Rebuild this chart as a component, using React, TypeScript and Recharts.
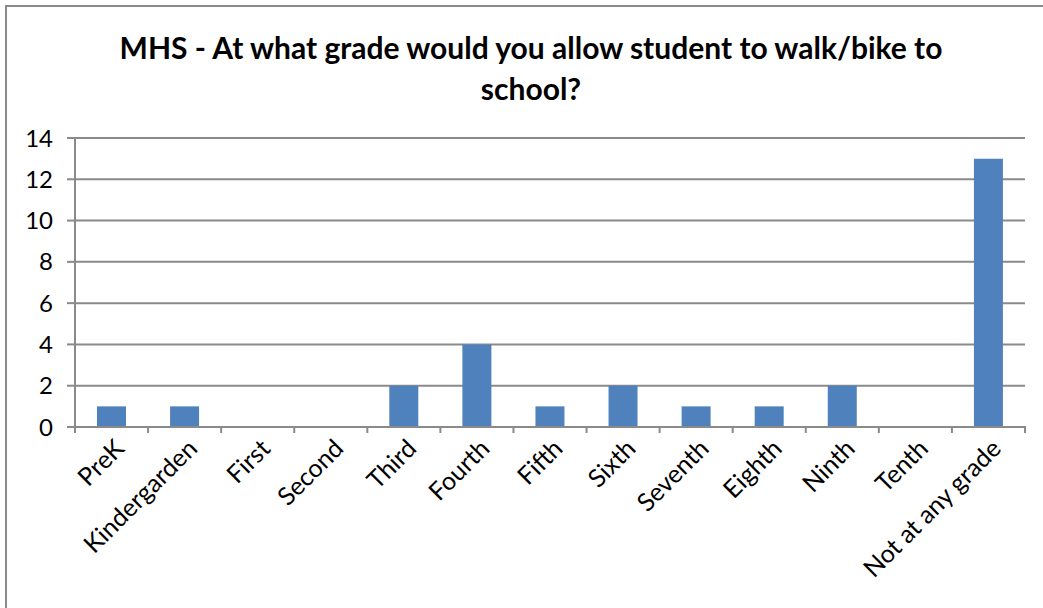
import { BarChart, Bar, XAxis, YAxis, CartesianGrid } from 'recharts';

const categories = [
    'PreK', 'Kindergarden', 'First', 'Second', 'Third', 'Fourth', 'Fifth',
    'Sixth', 'Seventh', 'Eighth', 'Ninth', 'Tenth', 'Not at any grade',
];
const counts = [1, 1, 0, 0, 2, 4, 1, 2, 1, 1, 2, 0, 13];
const yTicks = [0, 2, 4, 6, 8, 10, 12, 14];
const titleLines = ['MHS - At what grade would you allow student to walk/bike to', 'school?'];

const data = categories.map((name, i) => ({ name, value: counts[i] }));

const FONT = 'Lato, "Open Sans", sans-serif';
const GRID = '#8a8a8a';

// category label rotated -45deg plus the Excel-style boundary tick marks
function GradeTick(props: any) {
    const { x, y, payload, index } = props;
    const half = payload?.offset ?? 36.5;
    const top = y - 9;
    const ax = x;
    const ay = top + 10;
    return (
        <g>
            <line x1={x - half} y1={top} x2={x - half} y2={top + 7} stroke={GRID} strokeWidth={2} />
            {index === categories.length - 1 && (
                <line x1={x + half} y1={top} x2={x + half} y2={top + 7} stroke={GRID} strokeWidth={2} />
            )}
            <text
                x={ax}
                y={ay}
                textAnchor="end"
                dominantBaseline="hanging"
                transform={`rotate(-45, ${ax}, ${ay})`}
                fontSize={25}
                fontFamily={FONT}
                fill="#000"
            >
                {payload.value}
            </text>
        </g>
    );
}

export default function App() {
    return (
        <div style={{ position: 'absolute', left: 0, top: 0, width: 1043, height: 608, overflow: 'hidden', background: '#fff' }}>
            <div
                style={{
                    position: 'absolute',
                    left: 5,
                    top: 5,
                    width: 1100,
                    height: 700,
                    borderLeft: `2px solid ${GRID}`,
                    borderTop: `2px solid ${GRID}`,
                }}
            />
            <div
                style={{
                    position: 'absolute',
                    left: 6,
                    width: 1050,
                    top: 27,
                    textAlign: 'center',
                    fontFamily: FONT,
                    fontWeight: 700,
                    fontSize: 30,
                    lineHeight: '41px',
                    color: '#000',
                }}
            >
                {titleLines.map((t) => (
                    <div key={t}>{t}</div>
                ))}
            </div>
            <div style={{ position: 'absolute', left: 0, top: 0 }}>
                <BarChart
                    width={1043}
                    height={608}
                    data={data}
                    margin={{ top: 138, right: 18, bottom: 0, left: 0 }}
                    barSize={29}
                >
                    <CartesianGrid vertical={false} stroke={GRID} strokeWidth={2} />
                    <XAxis
                        dataKey="name"
                        interval={0}
                        height={181}
                        axisLine={{ stroke: GRID, strokeWidth: 2 }}
                        tickLine={false}
                        tick={<GradeTick />}
                    />
                    <YAxis
                        domain={[0, 14]}
                        ticks={yTicks}
                        width={75}
                        tickSize={8}
                        tickMargin={14}
                        axisLine={{ stroke: GRID, strokeWidth: 2 }}
                        tickLine={{ stroke: GRID, strokeWidth: 2 }}
                        tick={{ fill: '#000', fontSize: 24, fontFamily: FONT }}
                    />
                    <Bar dataKey="value" fill="#4F81BD" isAnimationActive={false} />
                </BarChart>
            </div>
        </div>
    );
}
